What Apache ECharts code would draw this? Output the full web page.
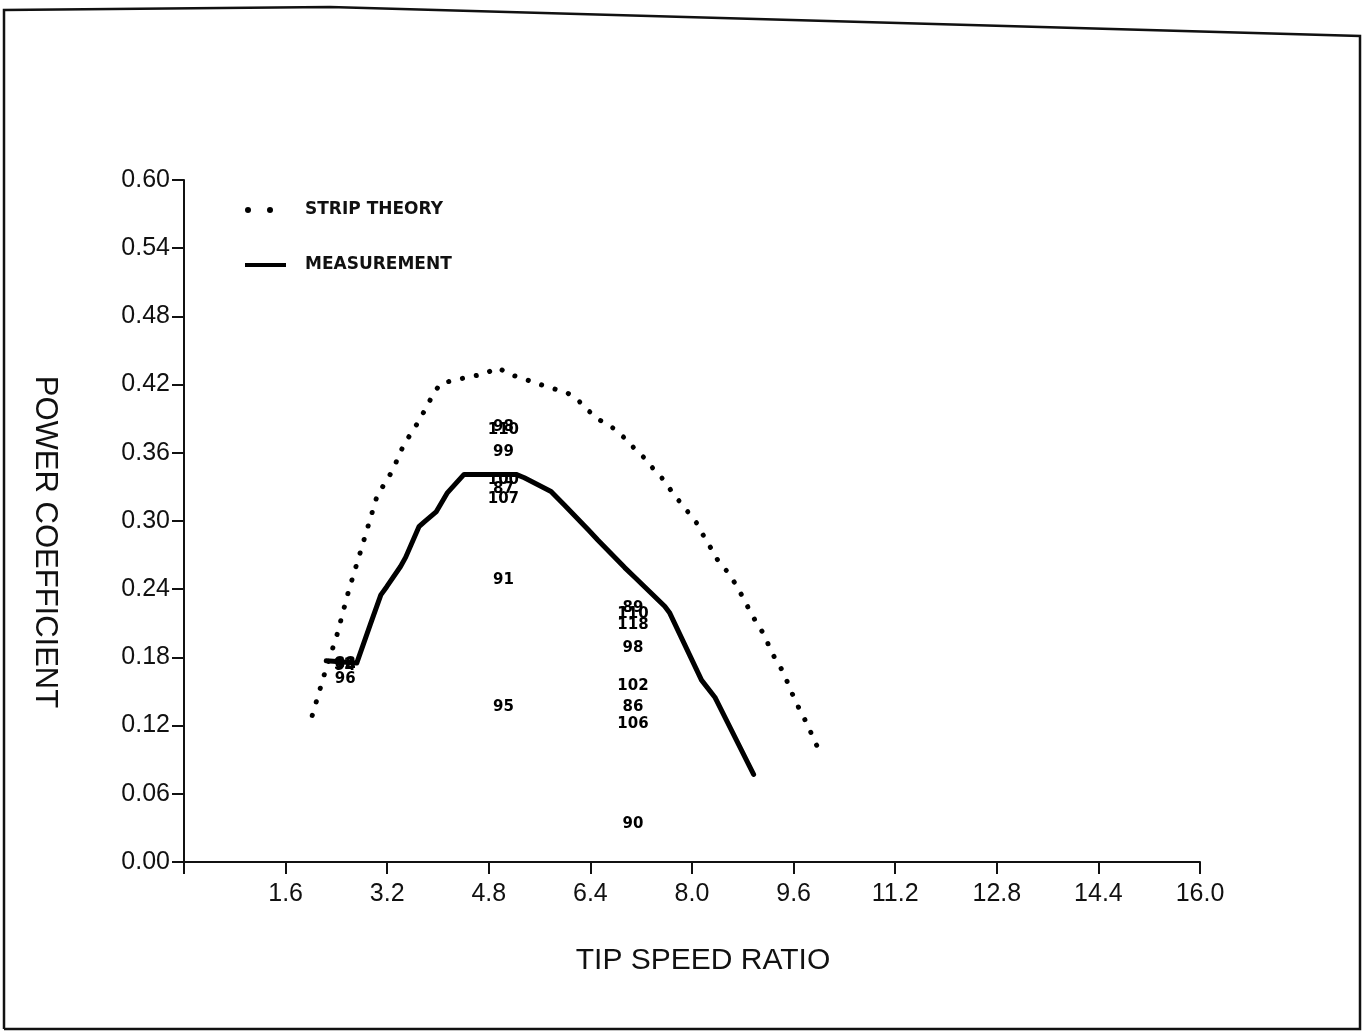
<!DOCTYPE html>
<html>
<head>
<meta charset="utf-8">
<script src="https://cdn.jsdelivr.net/npm/echarts@6/dist/echarts.min.js"></script>
<style>
html,body{margin:0;padding:0;background:#fff;}
#chart{width:1364px;height:1032px;}
</style>
</head>
<body>
<div id="chart"></div>
<script>
// Strip theory (dotted curve)
const stripX = [2.02, 2.21, 2.41, 2.59, 2.79, 3.04, 3.28, 3.46, 3.70, 3.93, 4.04, 4.27, 4.50, 4.72, 4.94, 5.13, 5.36, 5.56, 5.78, 6.03, 6.21, 6.37, 6.54, 6.75, 6.94, 7.09, 7.24, 7.39, 7.54, 7.68, 7.82, 7.95, 8.09, 8.20, 8.31, 8.42, 8.58, 8.69, 8.82, 8.91, 9.02, 9.15, 9.23, 9.34, 9.45, 9.53, 9.62, 9.72, 9.83, 9.92, 10.02];
const stripY = [0.129, 0.165, 0.200, 0.238, 0.275, 0.322, 0.344, 0.367, 0.388, 0.412, 0.421, 0.424, 0.427, 0.429, 0.435, 0.429, 0.425, 0.421, 0.417, 0.413, 0.406, 0.397, 0.389, 0.382, 0.373, 0.364, 0.356, 0.346, 0.337, 0.326, 0.316, 0.307, 0.297, 0.285, 0.275, 0.264, 0.254, 0.244, 0.231, 0.221, 0.210, 0.199, 0.187, 0.176, 0.166, 0.154, 0.143, 0.131, 0.120, 0.107, 0.097];

// Measurement (solid curve)
const measX = [2.24, 2.72, 2.94, 3.10, 3.19, 3.41, 3.49, 3.70, 3.78, 3.97, 4.15, 4.41, 5.23, 5.36, 5.78, 5.99, 6.37, 6.52, 6.94, 7.09, 7.57, 7.65, 8.15, 8.36, 8.97];
const measY = [0.177, 0.175, 0.210, 0.235, 0.242, 0.260, 0.268, 0.295, 0.299, 0.308, 0.325, 0.341, 0.341, 0.338, 0.326, 0.314, 0.292, 0.283, 0.259, 0.251, 0.225, 0.219, 0.160, 0.145, 0.077];

// Run-number labels
const runX = [2.54, 2.54, 2.52, 2.54, 5.03, 5.03, 5.03, 5.03, 5.03, 5.03, 5.03, 5.03, 7.07, 7.07, 7.07, 7.07, 7.07, 7.07, 7.07, 7.07];
const runY = [0.174, 0.172, 0.173, 0.161, 0.383, 0.380, 0.361, 0.336, 0.328, 0.319, 0.248, 0.136, 0.223, 0.218, 0.208, 0.188, 0.155, 0.136, 0.121, 0.033];
const runLabel = ['88', '94', '92', '96', '98', '110', '99', '100', '87', '107', '91', '95', '89', '110', '118', '98', '102', '86', '106', '90'];

// Axis ticks
const xMin = 0, xMax = 16, xStep = 1.6;
const yMin = 0, yMax = 0.6, yStep = 0.06;

const chart = echarts.init(document.getElementById('chart'), null, {renderer: 'canvas'});
const axisFont = 'Liberation Sans, Arial, sans-serif';

const option = {
  backgroundColor: '#fff',
  animation: false,
  grid: {left: 184, right: 164, top: 180, bottom: 170, containLabel: false},
  xAxis: {
    type: 'value', min: xMin, max: xMax, interval: xStep,
    name: 'TIP SPEED RATIO', nameLocation: 'middle', nameGap: 84,
    nameTextStyle: {fontFamily: axisFont, fontSize: 30, color: '#111', padding: [0, 0, 0, 22]},
    axisLine: {onZero: false, lineStyle: {color: '#111', width: 2}},
    axisTick: {show: true, length: 12, lineStyle: {color: '#111', width: 2}},
    splitLine: {show: false},
    axisLabel: {
      fontFamily: axisFont, fontSize: 25, color: '#111', margin: 20,
      formatter: v => (Math.abs(v) < 1e-9 ? '' : v.toFixed(1))
    }
  },
  yAxis: {
    type: 'value', min: yMin, max: yMax, interval: yStep,
    name: 'POWER COEFFICIENT', nameLocation: 'middle', nameGap: 124, nameRotate: -90,
    nameTextStyle: {fontFamily: axisFont, fontSize: 31, color: '#111', padding: [0, 0, 0, 42]},
    axisLine: {show: true, onZero: false, lineStyle: {color: '#111', width: 2}},
    axisTick: {show: true, length: 12, lineStyle: {color: '#111', width: 2}},
    splitLine: {show: false},
    axisLabel: {
      fontFamily: axisFont, fontSize: 25, color: '#111', margin: 14,
      formatter: v => v.toFixed(2)
    }
  },
  series: [
    {
      name: 'STRIP THEORY', type: 'line', showSymbol: false, smooth: false,
      data: stripX.map((x, i) => [x, stripY[i]]),
      lineStyle: {color: '#000', width: 5, type: [0.1, 14], cap: 'round'},
      z: 2
    },
    {
      name: 'MEASUREMENT', type: 'line', showSymbol: false, smooth: false,
      data: measX.map((x, i) => [x, measY[i]]),
      lineStyle: {color: '#000', width: 5, join: 'round', cap: 'round'},
      z: 3
    },
    {
      name: 'runs', type: 'scatter', symbolSize: 0,
      itemStyle: {opacity: 1, color: '#000'},
      data: runX.map((x, i) => ({value: [x, runY[i]], name: runLabel[i]})),
      label: {
        show: true, position: 'inside', formatter: p => p.name,
        fontFamily: 'DejaVu Sans, sans-serif', fontWeight: 'bold', fontSize: 15, color: '#000',
        textBorderWidth: 0, opacity: 1
      },
      z: 4
    }
  ],
  graphic: [
    // scanned page frame
    {type: 'polyline', shape: {points: [[4, 1029], [4, 10], [330, 7], [1360, 36], [1360, 1029], [4, 1029]]},
     style: {stroke: '#111', lineWidth: 2.5, fill: null}, silent: true},
    // legend
    {type: 'circle', shape: {cx: 248, cy: 210, r: 3}, style: {fill: '#000'}},
    {type: 'circle', shape: {cx: 270, cy: 210, r: 3}, style: {fill: '#000'}},
    {type: 'text', left: 305, top: 201, style: {text: 'STRIP THEORY', font: 'bold 17px DejaVu Sans, sans-serif', fill: '#111'}},
    {type: 'line', shape: {x1: 245, y1: 265, x2: 286, y2: 265}, style: {stroke: '#000', lineWidth: 4}},
    {type: 'text', left: 305, top: 256, style: {text: 'MEASUREMENT', font: 'bold 17px DejaVu Sans, sans-serif', fill: '#111'}}
  ]
};
chart.setOption(option);
</script>
</body>
</html>
